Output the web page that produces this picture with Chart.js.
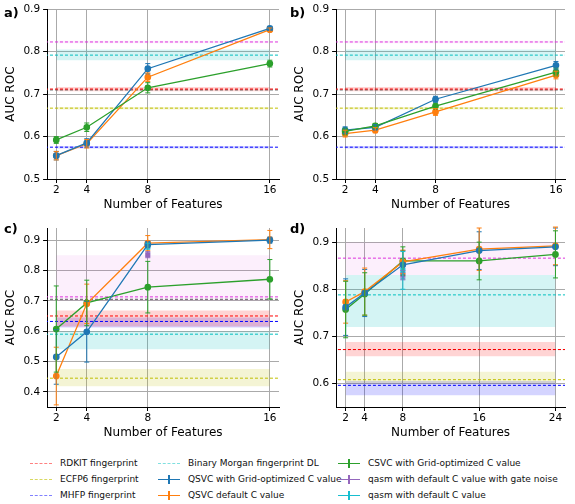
<!DOCTYPE html>
<html><head><meta charset="utf-8">
<script src="https://cdn.jsdelivr.net/npm/chart.js@4"></script>
<style>
body{margin:0;background:#fff;font-family:"DejaVu Sans",sans-serif;width:575px;height:504px;position:relative;overflow:hidden}
.p{position:absolute}
.lab{position:absolute;font-weight:bold;font-size:13px}
.leg{position:absolute;font-size:9px;color:#111;white-space:nowrap}
.leg span.s{display:inline-block;width:22px;height:0;vertical-align:middle;margin-right:8px;border-top:1.5px dashed}
.leg span.e{display:inline-block;width:22px;height:1.5px;vertical-align:middle;margin-right:8px;position:relative}
.leg span.e:after{content:"";position:absolute;left:10px;top:-4px;width:1.5px;height:9px;background:inherit}
</style></head><body>
<div class="p" style="left:0;top:0;width:287px;height:212px"><canvas id="ca"></canvas></div>
<div class="p" style="left:287px;top:0;width:288px;height:212px"><canvas id="cb"></canvas></div>
<div class="p" style="left:0;top:218px;width:287px;height:222px"><canvas id="cc"></canvas></div>
<div class="p" style="left:287px;top:218px;width:288px;height:222px"><canvas id="cd"></canvas></div>
<div class="lab" style="left:4px;top:5px">a)</div>
<div class="lab" style="left:290px;top:5px">b)</div>
<div class="lab" style="left:4px;top:221px">c)</div>
<div class="lab" style="left:290px;top:221px">d)</div>
<div id="legend"></div>
<script>
// ---- data ----
const featA=[2,4,8,16], featC=[2,4,8,16], featD=[2,4,8,16,24];
const baseNames=["RDKIT fingerprint","ECFP6 fingerprint","MHFP fingerprint","RDKIT DL","Binary Morgan fingerprint DL"];
// baselines [value, lo, hi]
const baseA_red=[0.712,0.707,0.717], baseA_yel=[0.667,0.664,0.670], baseA_blu=[0.575,0.572,0.578], baseA_dl=[0.71,0.71,0.71], baseA_cyan=[0.792,0.78,0.805], baseA_mag=[0.823,0.82,0.826];
const baseB_red=[0.712,0.707,0.717], baseB_yel=[0.667,0.664,0.670], baseB_blu=[0.575,0.572,0.578], baseB_dl=[0.71,0.71,0.71], baseB_cyan=[0.792,0.78,0.805], baseB_mag=[0.823,0.82,0.826];
const baseC_red=[0.65,0.615,0.668], baseC_yel=[0.445,0.418,0.475], baseC_blu=[0.632,0.612,0.645], baseC_dl=[0.705,0.705,0.705], baseC_cyan=[0.59,0.54,0.60], baseC_mag=[0.713,0.70,0.85];
const baseD_red=[0.672,0.658,0.688], baseD_yel=[0.608,0.60,0.625], baseD_blu=[0.596,0.575,0.605], baseD_dl=[0.672,0.672,0.672], baseD_cyan=[0.788,0.72,0.83], baseD_mag=[0.866,0.83,0.90];
// series
const qsvcGridA=[0.555,0.585,0.76,0.855], qsvcGridAErr=[0.01,0.01,0.012,0.004];
const qsvcDefA=[0.555,0.583,0.74,0.852], qsvcDefAErr=[0.01,0.01,0.01,0.004];
const csvcA=[0.592,0.622,0.715,0.772], csvcAErr=[0.008,0.01,0.012,0.008];
const qsvcGridB=[0.615,0.622,0.688,0.768], qsvcGridBErr=[0.008,0.006,0.007,0.009];
const qsvcDefB=[0.607,0.615,0.658,0.745], qsvcDefBErr=[0.008,0.006,0.008,0.009];
const csvcB=[0.612,0.625,0.672,0.752], csvcBErr=[0.008,0.006,0.007,0.009];
const qsvcGridC=[0.515,0.598,0.885,0.90], qsvcGridCErr=[0.09,0.1,0.01,0.01];
const qsvcDefC=[0.452,0.69,0.89,0.902], qsvcDefCErr=[0.095,0.065,0.025,0.03];
const csvcC=[0.607,0.693,0.745,0.771], csvcCErr=[0.142,0.075,0.085,0.065];
const qasmNoiseC=[0.852], qasmNoiseCErr=[0.01];
const qasmDefC=[0.88], qasmDefCErr=[0.01];
const qsvcGridD=[0.762,0.792,0.852,0.882,0.89], qsvcGridDErr=[0.06,0.05,0.03,0.04,0.04];
const qsvcDefD=[0.773,0.795,0.858,0.885,0.892], qsvcDefDErr=[0.045,0.05,0.025,0.045,0.04];
const csvcD=[0.757,0.79,0.86,0.86,0.874], csvcDErr=[0.06,0.045,0.03,0.04,0.05];
const qasmNoiseD=[0.83], qasmNoiseDErr=[0.01];
const qasmDefD=[0.84], qasmDefDErr=[0.04];

const C_BLUE="#1f77b4",C_ORANGE="#ff7f0e",C_GREEN="#2ca02c",C_PURPLE="#9467bd",C_CYAN="#17becf",C_MAG="#dd33dd";

function rgba(h,a){const n=parseInt(h.slice(1),16);return `rgba(${n>>16},${(n>>8)&255},${n&255},${a})`;}
function baseSets(list,x0,x1){
  const out=[];
  list.forEach(([b,col])=>{
    out.push({type:'line',data:[{x:x0,y:b[1]},{x:x1,y:b[1]}],borderWidth:0,pointRadius:0,fill:false,order:10});
    out.push({type:'line',data:[{x:x0,y:b[2]},{x:x1,y:b[2]}],borderWidth:0,pointRadius:0,fill:'-1',backgroundColor:rgba(col,col===C_MAG?0.08:0.17),order:10});
  });
  list.forEach(([b,col])=>{
    out.push({type:'line',data:[{x:x0-5,y:b[0]},{x:x1+5,y:b[0]}],borderColor:col,borderWidth:1,borderDash:[3,2],pointRadius:0,fill:false,order:5});
  });
  return out;
}
function ser(xs,ys,err,col,style){
  return {type:'line',data:xs.map((x,i)=>({x,y:ys[i]})),err,borderColor:col,backgroundColor:col,borderWidth:1.3,pointRadius:2.7,pointStyle:style||'circle',fill:false,order:1};
}
const errPlugin={id:'err',afterDatasetsDraw(ch){
  const c=ch.ctx,xs=ch.scales.x,ys=ch.scales.y;
  ch.data.datasets.forEach(d=>{ if(!d.err)return;
    c.save();c.strokeStyle=d.borderColor;c.lineWidth=1;
    d.data.forEach((p,i)=>{const x=xs.getPixelForValue(p.x),y1=ys.getPixelForValue(p.y-d.err[i]),y2=ys.getPixelForValue(p.y+d.err[i]);
      c.beginPath();c.moveTo(x,y1);c.lineTo(x,y2);c.moveTo(x-2.5,y1);c.lineTo(x+2.5,y1);c.moveTo(x-2.5,y2);c.lineTo(x+2.5,y2);c.stroke();});
    c.restore();});
}};
function mk(id,xs,xmin,xmax,ymin,ymax,bases,series,pad){
  new Chart(document.getElementById(id),{type:'line',
    data:{datasets:[...baseSets(bases,xs[0],xs[xs.length-1]),...series]},
    options:{animation:false,responsive:true,maintainAspectRatio:false,
      layout:{padding:pad},
      plugins:{legend:{display:false},tooltip:{enabled:false}},
      scales:{
        x:{type:'linear',min:xmin,max:xmax,afterBuildTicks:a=>{a.ticks=xs.map(v=>({value:v}));},
          ticks:{color:'#000',font:{size:10.5,family:'DejaVu Sans'},autoSkip:false,maxRotation:0,padding:1},
          grid:{color:'#aaa',borderDash:[3,2],tickLength:4,tickColor:'#000'},border:{color:'#000'},
          title:{display:true,text:'Number of Features',color:'#000',font:{size:12,family:'DejaVu Sans'},padding:0}},
        y:{min:ymin,max:ymax,afterBuildTicks:a=>{a.ticks=[];for(let v=0.4;v<=0.91;v+=0.1){v=Math.round(v*10)/10;if(v>=ymin-1e-9&&v<=ymax)a.ticks.push({value:v});}},
          ticks:{color:'#000',font:{size:10.5,family:'DejaVu Sans'},callback:v=>v.toFixed(1)},
          grid:{color:'#aaa',borderDash:[3,2],tickLength:4,tickColor:'#000'},border:{color:'#000'},
          title:{display:true,text:'AUC ROC',color:'#000',font:{size:12,family:'DejaVu Sans'},padding:2}}
      }},plugins:[errPlugin]});
}
const R="#ff0000",Y="#bfbf00",B="#0000ff",G="#555555",CY="#00bfbf";
mk('ca',featA,1.4,16.6,0.5,0.9,[[baseA_red,R],[baseA_yel,Y],[baseA_blu,B],[baseA_dl,G],[baseA_cyan,CY],[baseA_mag,C_MAG]],
  [ser(featA,csvcA,csvcAErr,C_GREEN),ser(featA,qsvcGridA,qsvcGridAErr,C_BLUE),ser(featA,qsvcDefA,qsvcDefAErr,C_ORANGE)],{top:4,right:8,left:2});
mk('cb',featA,1.4,16.6,0.5,0.9,[[baseB_red,R],[baseB_yel,Y],[baseB_blu,B],[baseB_dl,G],[baseB_cyan,CY],[baseB_mag,C_MAG]],
  [ser(featA,csvcB,csvcBErr,C_GREEN),ser(featA,qsvcGridB,qsvcGridBErr,C_BLUE),ser(featA,qsvcDefB,qsvcDefBErr,C_ORANGE)],{top:4,right:10,left:4});
mk('cc',featC,1.4,16.6,0.35,0.94,[[baseC_red,R],[baseC_yel,Y],[baseC_blu,B],[baseC_dl,G],[baseC_cyan,CY],[baseC_mag,C_MAG]],
  [ser(featC,qsvcGridC,qsvcGridCErr,C_BLUE),ser(featC,qsvcDefC,qsvcDefCErr,C_ORANGE),ser(featC,csvcC,csvcCErr,C_GREEN),
   ser([8],qasmNoiseC,qasmNoiseCErr,C_PURPLE,'rect'),ser([8],qasmDefC,qasmDefCErr,C_CYAN,'rect')],{top:10,right:8,left:2,bottom:0});
mk('cd',featD,1,25,0.55,0.93,[[baseD_red,R],[baseD_yel,Y],[baseD_blu,B],[baseD_dl,G],[baseD_cyan,CY],[baseD_mag,C_MAG]],
  [ser(featD,qsvcGridD,qsvcGridDErr,C_BLUE),ser(featD,qsvcDefD,qsvcDefDErr,C_ORANGE),ser(featD,csvcD,csvcDErr,C_GREEN),
   ser([8],qasmNoiseD,qasmNoiseDErr,C_PURPLE,'rect'),ser([8],qasmDefD,qasmDefDErr,C_CYAN,'rect')],{top:10,right:10,left:4,bottom:0});
// legend
const leg=[
 [30,464,baseNames[0],'#ff8080','s'],[30,480,baseNames[1],'#d8d860','s'],[30,496,baseNames[2],'#8080ff','s'],[30,512,baseNames[3],'#808080','s'],
 [158,464,baseNames[4],'#80e0e0','s'],[158,480,'QSVC with Grid-optimized C value',C_BLUE,'e'],[158,496,'QSVC default C value',C_ORANGE,'e'],
 [338,464,'CSVC with Grid-optimized C value',C_GREEN,'e'],[338,480,'qasm with default C value with gate noise',C_PURPLE,'e'],[338,496,'qasm with default C value',C_CYAN,'e']];
const L=document.getElementById('legend');
leg.forEach(([x,y,t,c,k])=>{const d=document.createElement('div');d.className='leg';d.style.left=x+'px';d.style.top=(y-6)+'px';
 d.innerHTML=k==='s'?`<span class="s" style="border-color:${c}"></span>${t}`:`<span class="e" style="background:${c}"></span>${t}`;L.appendChild(d);});
</script></body></html>
